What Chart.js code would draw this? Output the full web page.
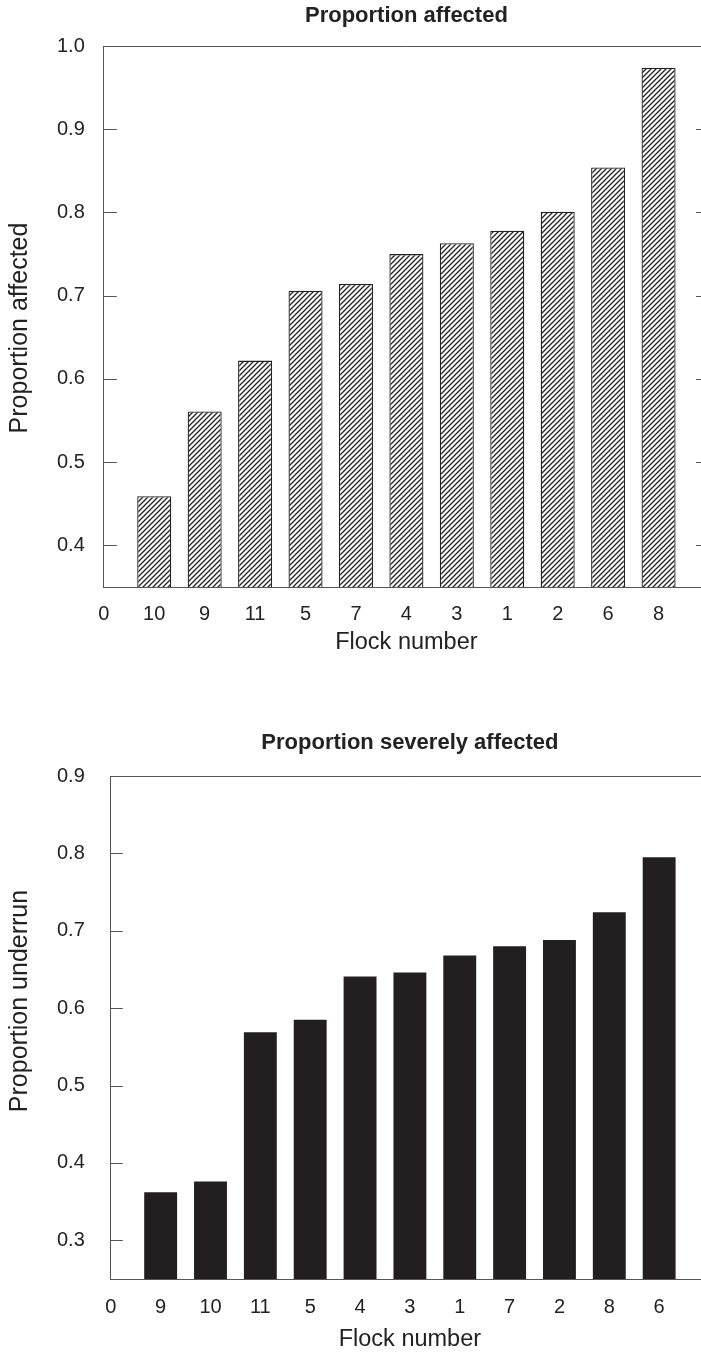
<!DOCTYPE html>
<html><head><meta charset="utf-8">
<script src="https://cdn.jsdelivr.net/npm/chart.js@4.4.1/dist/chart.umd.min.js"></script>
<style>
html,body{margin:0;padding:0;background:#fff;width:701px;height:1353px;overflow:hidden;position:relative;}
.wrap{position:absolute;left:0;}
#w1{top:0;}
#w2{top:700px;}
canvas{display:block;}
</style></head><body>
<div class="wrap" id="w1"><canvas id="c1" width="730" height="660"></canvas></div>
<div class="wrap" id="w2"><canvas id="c2" width="730" height="653"></canvas></div>
<script>
// ---- data ----
const originLabel = '0';
const topFlocks = ['10','9','11','5','7','4','3','1','2','6','8'];
const topValues = [0.459, 0.561, 0.622, 0.706, 0.714, 0.750, 0.763, 0.778, 0.801, 0.854, 0.974];
const topYTicks = [0.4, 0.5, 0.6, 0.7, 0.8, 0.9, 1.0];
const bottomFlocks = ['9','10','11','5','4','3','1','7','2','8','6'];
const bottomValues = [0.362, 0.376, 0.569, 0.585, 0.641, 0.646, 0.668, 0.680, 0.688, 0.724, 0.795];
const bottomYTicks = [0.3, 0.4, 0.5, 0.6, 0.7, 0.8, 0.9];

const FONT = '"Liberation Sans", Arial, Helvetica, sans-serif';
const TEXT = '#222';
const LINE = '#555';

function hatchPattern() {
  const c = document.createElement('canvas');
  c.width = 5; c.height = 5;
  const g = c.getContext('2d');
  g.fillStyle = '#fff'; g.fillRect(0,0,5,5);
  g.strokeStyle = '#222'; g.lineWidth = 1.3;
  g.beginPath();
  g.moveTo(-1,6); g.lineTo(6,-1);
  g.moveTo(-1,1); g.lineTo(1,-1);
  g.moveTo(4,6); g.lineTo(6,4);
  g.stroke();
  return g.createPattern(c, 'repeat');
}

const framePlugin = {
  id: 'frame',
  afterDraw(chart, args, o) {
    const {ctx, chartArea: a} = chart;
    const y = chart.scales.y;
    ctx.save();
    ctx.strokeStyle = LINE; ctx.lineWidth = 1;
    ctx.beginPath();
    ctx.moveTo(a.left, Math.round(a.top) + 0.5); ctx.lineTo(a.right, Math.round(a.top) + 0.5);
    o.ticks.forEach(v => {
      const py = Math.round(y.getPixelForValue(v)) + 0.5;
      ctx.moveTo(a.left, py); ctx.lineTo(a.left + o.len, py);
      if (o.right) { ctx.moveTo(a.right - o.len, py); ctx.lineTo(a.right, py); }
    });
    ctx.stroke();
    ctx.fillStyle = TEXT;
    ctx.textAlign = 'center';
    ctx.textBaseline = 'middle';
    const cx = (a.left + a.right) / 2;
    // chart title
    ctx.font = 'bold 22px ' + FONT;
    ctx.fillText(o.title, cx, o.titleY);
    // x axis title
    ctx.font = '23.5px ' + FONT;
    ctx.fillText(o.xTitle, cx, a.bottom + o.xTitleGap);
    // y axis title
    ctx.font = '25px ' + FONT;
    ctx.textBaseline = 'alphabetic';
    ctx.translate(o.yTitleX, (a.top + a.bottom) / 2 + o.yTitleShift);
    ctx.rotate(-Math.PI / 2);
    ctx.fillText(o.yTitle, 0, 0);
    ctx.restore();
  }
};

function makeChart(id, flocks, values, yTicks, cfg) {
  const xLabels = [originLabel].concat(flocks);
  const xPositions = xLabels.map((_, i) => i);
  return new Chart(document.getElementById(id), {
    type: 'bar',
    data: {
      datasets: [{
        data: values.map((v, i) => ({x: i + 1, y: v})),
        backgroundColor: cfg.fill,
        borderColor: cfg.border,
        borderWidth: cfg.borderWidth,
        borderSkipped: 'start',
        barPercentage: cfg.barPct,
        categoryPercentage: 1
      }]
    },
    options: {
      responsive: false,
      animation: false,
      events: [],
      layout: {padding: {left: cfg.padLeft, right: 21, top: cfg.padTop, bottom: cfg.padBottom}},
      plugins: {
        legend: {display: false},
        tooltip: {enabled: false},
        title: {display: false},
        frame: {ticks: yTicks, len: cfg.tickLen, right: cfg.rightTicks,
                title: cfg.title, titleY: cfg.titleY,
                xTitle: 'Flock number', xTitleGap: cfg.xTitleGap,
                yTitle: cfg.yTitle, yTitleX: 27, yTitleShift: cfg.yTitleShift}
      },
      scales: {
        x: {
          type: 'linear', min: 0, max: 12, offset: false,
          afterBuildTicks: s => { s.ticks = xPositions.map(v => ({value: v})); },
          ticks: {
            autoSkip: false, maxRotation: 0, color: TEXT, padding: cfg.xTickPad,
            font: {family: FONT, size: 20},
            callback: (v, i) => xLabels[i] ?? ''
          },
          grid: {display: false, drawTicks: false, offset: false},
          border: {display: true, color: LINE, width: 1}
        },
        y: {
          min: cfg.yMin, max: cfg.yMax,
          afterBuildTicks: s => { s.ticks = yTicks.map(v => ({value: v})); },
          ticks: {
            color: TEXT, padding: cfg.yTickPad,
            font: {family: FONT, size: 20},
            callback: v => v.toFixed(1)
          },
          grid: {display: false, drawTicks: false},
          border: {display: true, color: LINE, width: 1}
        }
      }
    },
    plugins: [framePlugin]
  });
}

makeChart('c1', topFlocks, topValues, topYTicks, {
  title: 'Proportion affected', yTitle: 'Proportion affected', titleY: 16,
  fill: hatchPattern(), border: '#222', borderWidth: 1.3, barPct: 0.675,
  yMin: 0.35, yMax: 1.0, tickLen: 13, rightTicks: true, yTitleShift: 11.5,
  padLeft: 38, padTop: 46, padBottom: 19, xTickPad: 15, xTitleGap: 56, yTickPad: 19
});

makeChart('c2', bottomFlocks, bottomValues, bottomYTicks, {
  title: 'Proportion severely affected', yTitle: 'Proportion underrun', titleY: 43,
  fill: '#231f20', border: '#231f20', borderWidth: 0, barPct: 0.66,
  yMin: 0.25, yMax: 0.9, tickLen: 12, rightTicks: false, yTitleShift: -26.5,
  padLeft: 31, padTop: 76, padBottom: 18, xTickPad: 16, xTitleGap: 61, yTickPad: 26
});
</script>
</body></html>
